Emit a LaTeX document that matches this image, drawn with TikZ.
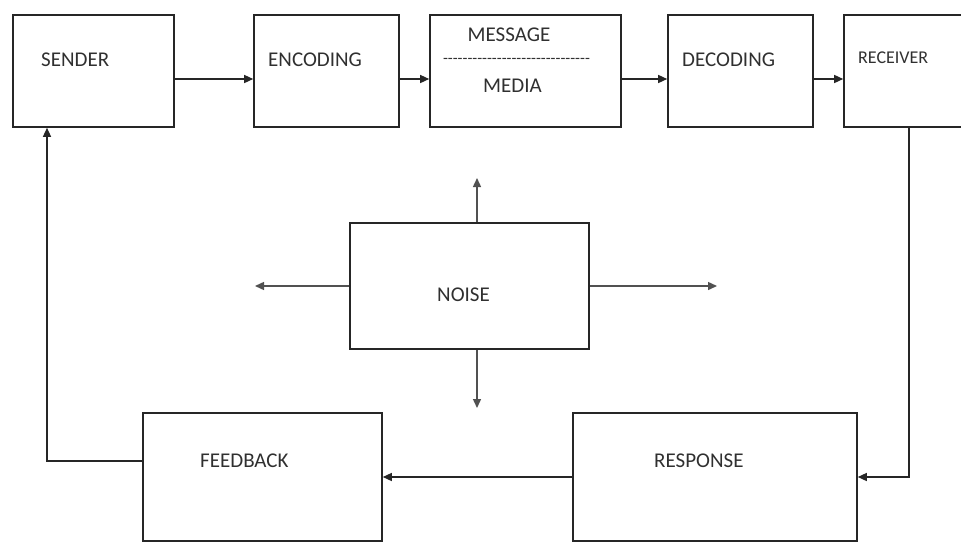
\documentclass[tikz,border=0pt]{standalone}
\usepackage{fontspec}
\setmainfont{Carlito}
\usetikzlibrary{arrows.meta}
\definecolor{linecol}{HTML}{262626}
\definecolor{textcol}{HTML}{303030}

\begin{document}
\begin{tikzpicture}[
  x=1pt, y=-1pt,
  font=\fontsize{21}{25}\selectfont,
  box/.style={draw=linecol, line width=1.6pt, minimum height=112pt, inner sep=0pt},
  txt/.style={anchor=west, inner sep=0pt, text=textcol},
  arrow/.style={-{Triangle[length=9pt,width=8pt]}, line width=1.4pt, draw=linecol},
  noisearrow/.style={arrow, draw=linecol!80},
]
\clip (0,0) rectangle (961,541);

% =================== TOP ROW: the message path ===================
\node[box, minimum width=161pt] (sender) at (93.5,71) {};
\node[box, minimum width=145pt] (encoding) at (326.5,71) {};
\node[box, minimum width=191pt] (message) at (525.5,71) {};
\node[box, minimum width=145pt] (decoding) at (740.5,71) {};
\node[box, minimum width=130pt] (receiver) at (909,71) {};

\node[txt] (sendertxt) at (41,60) {SENDER};
\node[txt] (encodingtxt) at (268,60) {ENCODING};
\node[txt, anchor=center] (messagetxt) at (509,35) {MESSAGE};
\node[txt, anchor=center, font=\fontsize{16}{20}\selectfont] (dashtxt) at (516.5,61)
  {-{}-{}-{}-{}-{}-{}-{}-{}-{}-{}-{}-{}-{}-{}-{}-{}-{}-{}-{}-{}-{}-{}-{}-{}-{}-{}-{}-{}-{}-};
\node[txt, anchor=center] (mediatxt) at (512.5,86) {MEDIA};
\node[txt] (decodingtxt) at (682,60) {DECODING};
\node[txt, font=\fontsize{18}{22}\selectfont] (receivertxt) at (858,58) {RECEIVER};

\draw[arrow] ([yshift=-8pt]sender.east) -- ([yshift=-8pt]encoding.west);
\draw[arrow] ([yshift=-8pt]encoding.east) -- ([yshift=-8pt]message.west);
\draw[arrow] ([yshift=-8pt]message.east) -- ([yshift=-8pt]decoding.west);
\draw[arrow] ([yshift=-8pt]decoding.east) -- ([yshift=-8pt]receiver.west);

% =================== MIDDLE: noise ===================
\node[box, minimum width=239pt, minimum height=126pt] (noise) at (469.5,286) {};
\node[txt] (noisetxt) at (437,295) {NOISE};

\coordinate (nup) at (477,178);
\coordinate (ndown) at (477,408);
\coordinate (nleft) at (255,286);
\coordinate (nright) at (717,286);

\draw[noisearrow] ([xshift=7.5pt]noise.north) -- (nup);
\draw[noisearrow] ([xshift=7.5pt]noise.south) -- (ndown);
\draw[noisearrow] (noise.west) -- (nleft);
\draw[noisearrow] (noise.east) -- (nright);

% =================== BOTTOM ROW: the way back ===================
\node[box, minimum width=239pt, minimum height=128pt] (feedback) at (262.5,477) {};
\node[box, minimum width=284pt, minimum height=128pt] (response) at (715,477) {};

\node[txt] (feedbacktxt) at (200,461) {FEEDBACK};
\node[txt] (responsetxt) at (654,461) {RESPONSE};

\draw[arrow] (receiver.south) |- (response.east);
\draw[arrow] (response.west) -- (feedback.east);
\draw[arrow] ([yshift=16pt]feedback.west) -| ([xshift=-46.5pt]sender.south);

\end{tikzpicture}
\end{document}
